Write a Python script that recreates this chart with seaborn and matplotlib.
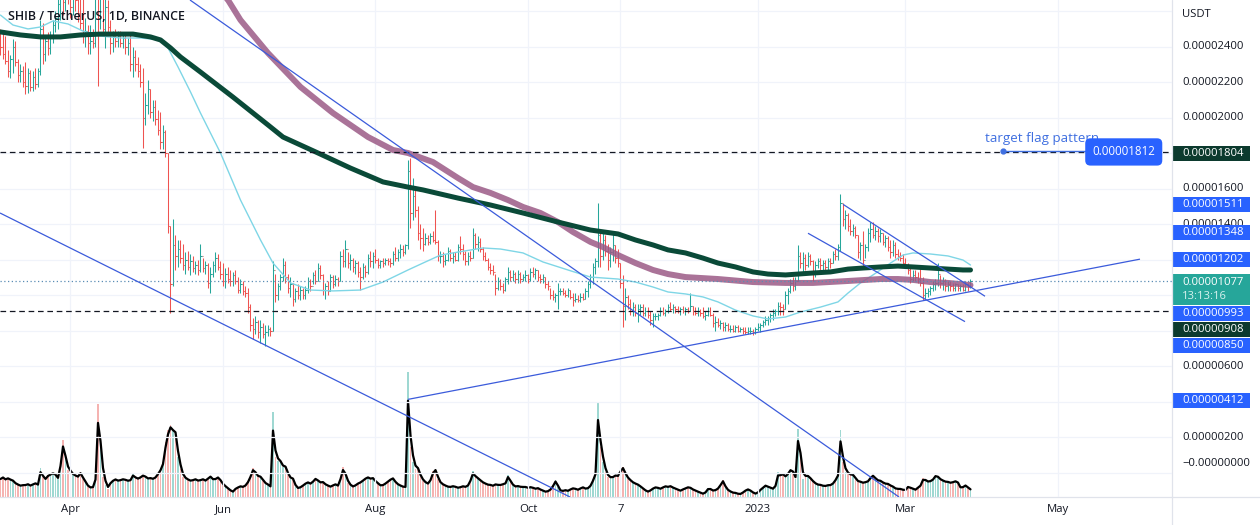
import matplotlib
matplotlib.use("Agg")
import numpy as np
import pandas as pd
import matplotlib.pyplot as plt
import matplotlib.dates as mdates
from matplotlib.patches import Rectangle
from matplotlib.lines import Line2D
import seaborn as sns

# ---------------- data (prices in units of 1e-6 USDT) ----------------
start_date = "2022-03-04"
first_open = 24.3

high = [
25.0,24.9,24.6,23.8,23.5,24.4,24.3,23.3,23.0,22.9,
23.1,22.8,22.7,22.6,22.8,22.8,25.5,25.3,24.6,24.8,
24.9,25.5,26.0,26.8,27.5,28.0,28.2,28.5,28.0,27.6,
27.8,27.4,27.0,26.8,25.6,25.2,25.2,25.0,27.2,28.0,
27.8,27.2,26.8,26.6,25.5,24.9,25.0,24.9,24.9,24.8,
24.8,24.5,24.7,24.0,23.8,23.4,23.0,22.8,21.4,22.1,
21.6,21.0,21.0,20.4,20.3,19.6,19.3,18.0,13.9,14.3,
13.4,13.1,13.1,12.9,12.4,12.5,12.3,12.2,11.9,12.0,
12.9,12.1,11.9,11.8,11.6,11.9,12.4,12.3,11.9,11.8,
11.5,11.6,11.4,11.3,11.4,11.0,10.9,10.8,10.5,10.4,
9.5,8.7,8.8,8.6,8.6,8.4,8.3,8.3,8.2,11.9,
11.2,10.7,11.2,12.1,11.9,11.2,11.0,10.7,10.4,10.6,
10.5,10.4,10.5,11.0,10.9,11.3,11.4,11.8,11.7,11.2,
10.7,10.8,11.2,11.1,11.1,11.0,12.5,12.6,13.1,12.4,
12.3,12.1,12.0,11.9,11.6,11.8,11.7,12.3,12.5,12.4,
12.6,12.1,12.0,12.1,12.1,12.1,12.1,12.5,12.7,12.6,
12.9,12.8,12.9,17.6,17.7,16.6,15.9,15.0,14.0,13.8,
13.5,13.4,13.5,13.6,14.8,13.1,12.5,12.4,12.3,12.7,
12.6,12.4,12.4,12.9,13.3,12.9,12.5,12.4,12.5,13.8,
13.5,13.3,13.2,12.7,12.4,12.1,11.8,11.7,11.2,11.0,
10.9,10.7,11.0,11.6,11.4,11.4,11.3,11.4,11.3,11.2,
11.4,11.2,11.5,11.6,11.5,11.4,11.2,11.2,11.0,10.8,
10.4,10.3,10.1,10.7,10.4,10.4,10.3,10.4,10.3,10.1,
10.1,10.0,10.1,10.1,10.4,10.8,11.2,11.8,12.1,15.2,
13.7,13.5,13.4,12.9,12.7,13.5,12.8,12.6,11.8,11.1,
10.4,10.0,9.8,9.6,9.5,9.5,9.5,9.5,9.3,9.3,
9.1,9.0,9.0,9.0,9.3,9.3,9.2,9.5,9.6,9.5,
9.4,9.4,9.3,9.4,9.3,9.3,10.1,9.4,9.3,9.3,
9.2,9.3,9.1,9.3,9.3,9.0,8.8,8.7,8.6,8.5,
8.5,8.4,8.3,8.3,8.3,8.3,8.2,8.2,8.2,8.2,
8.2,8.1,8.2,8.4,8.4,8.6,8.8,8.8,9.0,9.2,
9.2,9.6,9.6,9.5,10.2,10.4,10.9,11.0,11.0,12.8,
12.4,12.4,12.3,12.4,12.3,12.0,11.9,12.1,12.1,12.0,
12.0,12.1,12.1,12.5,12.6,12.9,15.7,15.1,14.8,14.6,
14.3,14.0,13.9,13.4,13.0,13.6,12.9,13.8,14.1,14.1,
13.9,13.8,13.7,13.5,13.4,13.3,13.1,13.1,13.0,12.6,
12.4,12.3,12.1,11.8,11.5,11.4,11.4,11.3,11.5,11.0,
10.4,10.4,10.5,10.8,10.9,11.8,11.1,11.0,10.9,10.8,
10.8,10.7,10.7,10.6,10.6,10.6,10.8,10.7,10.9,
]

low = [
23.5,23.3,23.0,22.3,22.2,22.5,22.9,22.0,22.0,21.7,
21.3,21.4,21.5,21.5,21.6,21.7,22.4,23.0,23.2,23.5,
23.6,24.2,24.8,25.0,25.5,25.8,26.0,26.4,25.6,25.8,
26.0,25.4,25.0,24.2,24.0,23.6,23.6,23.9,24.0,21.8,
25.0,24.6,23.9,24.8,23.6,23.7,24.0,24.0,24.0,23.9,
23.6,23.5,22.6,22.3,22.6,22.3,21.7,18.3,19.6,20.2,
20.0,19.8,19.6,19.0,18.2,18.2,17.8,13.5,9.0,10.5,
11.4,11.6,11.8,11.4,11.2,11.4,11.1,11.3,11.2,11.1,
11.3,11.3,11.2,10.4,10.1,11.0,11.3,11.4,10.9,10.5,
10.4,10.7,10.5,10.5,10.6,10.1,10.1,10.0,9.9,9.0,
8.0,7.5,7.8,7.6,7.3,7.6,7.1,7.7,7.7,8.0,
9.6,9.7,10.3,10.8,10.7,10.1,9.9,9.4,9.6,9.8,
9.7,9.8,9.8,10.1,10.2,10.6,10.6,10.8,10.9,10.0,
9.8,10.0,10.2,10.4,10.5,10.5,10.8,11.6,11.6,11.5,
11.4,11.3,11.2,11.0,10.3,10.9,11.0,11.2,11.6,11.5,
11.8,11.5,11.5,11.6,11.7,11.7,11.6,11.7,11.9,11.9,
12.1,12.2,12.3,12.6,13.8,14.2,14.4,13.1,12.6,12.5,
12.8,12.8,12.9,13.0,12.9,11.9,11.8,11.6,11.7,11.9,
11.9,11.8,11.9,11.9,12.3,12.0,11.7,11.7,11.9,12.1,
12.6,12.5,12.4,12.0,11.9,11.4,11.2,11.1,10.0,10.3,
10.3,10.1,10.2,10.6,10.8,10.8,10.7,10.7,10.7,10.8,
10.8,10.7,10.8,11.0,10.9,10.8,10.7,10.7,10.4,10.3,
9.8,9.7,9.6,9.2,10.0,10.0,9.9,9.9,9.8,9.4,
9.6,9.6,9.6,9.7,9.8,9.9,10.4,10.6,11.2,11.6,
11.6,12.0,12.2,11.4,11.6,11.9,11.8,11.6,10.4,8.2,
8.6,9.2,8.9,8.8,8.8,8.5,8.9,8.8,8.8,8.7,
8.3,8.2,8.6,8.6,8.8,8.9,8.8,9.0,9.1,9.0,
9.0,9.0,8.9,9.0,8.9,9.0,9.1,8.9,8.9,8.8,
8.8,8.7,8.6,8.8,8.8,8.2,8.0,8.2,8.1,8.0,
8.0,8.0,7.9,7.9,7.9,7.9,7.9,7.8,7.8,7.8,
7.8,7.75,7.8,8.0,7.9,8.2,8.3,8.3,8.5,8.6,
8.8,8.9,8.9,8.9,9.2,9.5,10.1,10.2,10.3,10.8,
11.5,11.2,11.4,11.6,11.7,10.8,11.0,11.5,11.4,11.4,
11.3,11.4,11.5,11.8,12.0,12.0,12.5,13.9,13.7,13.6,
13.4,13.3,13.2,12.1,12.0,11.6,12.1,12.5,13.0,13.2,
13.1,13.0,13.0,12.8,12.7,12.5,12.1,12.2,12.1,12.0,
11.9,11.6,11.6,11.2,10.7,10.8,10.8,10.7,10.5,9.7,
9.8,9.9,10.0,10.2,10.3,10.5,10.4,10.3,10.2,10.2,
10.2,10.2,10.2,10.2,10.2,10.2,10.2,10.2,10.4,
]

close = [
24.0,23.6,23.2,22.6,23.3,24.0,23.1,22.4,22.6,22.0,
21.8,22.5,21.7,22.3,21.9,22.6,25.0,23.6,24.3,23.9,
24.6,25.2,25.6,26.4,27.0,26.5,27.6,27.2,26.2,26.9,
26.6,25.9,25.3,24.6,24.9,24.2,24.3,24.2,26.8,25.6,
26.9,25.0,26.2,25.1,24.2,24.6,24.3,24.6,24.2,24.5,
24.0,24.2,23.0,23.4,23.0,22.6,22.0,20.0,20.7,21.6,
20.3,20.6,19.9,19.3,18.6,19.2,18.0,13.9,10.6,12.8,
12.2,12.6,12.1,11.7,12.0,11.6,11.9,11.5,11.7,11.4,
12.2,11.5,11.7,10.7,11.2,11.7,12.1,11.6,11.2,10.8,
11.2,10.9,10.8,11.1,10.8,10.3,10.6,10.2,10.1,9.3,
8.3,8.1,8.5,7.9,8.2,7.8,7.9,8.1,8.0,11.4,
10.0,10.5,11.0,11.7,11.0,10.4,10.6,9.8,10.2,10.0,
10.3,10.0,10.3,10.8,10.5,11.1,10.8,11.5,11.1,10.3,
10.5,10.2,11.0,10.6,10.9,10.8,12.2,11.9,12.6,11.8,
12.0,11.6,11.8,11.3,11.0,11.6,11.3,12.1,11.9,12.2,
12.0,11.7,11.9,11.8,12.0,11.9,11.8,12.3,12.1,12.4,
12.6,12.4,12.8,17.0,14.6,15.6,14.8,13.5,13.2,12.9,
13.2,13.0,13.3,13.1,13.0,12.2,12.2,11.9,12.0,12.5,
12.1,12.2,12.0,12.7,12.6,12.3,11.9,12.2,12.1,13.4,
12.9,13.0,12.6,12.2,12.0,11.6,11.4,11.3,10.4,10.8,
10.5,10.3,10.9,11.3,11.0,11.2,10.9,11.2,10.9,11.0,
11.1,10.9,11.3,11.2,11.4,11.0,10.9,11.0,10.6,10.5,
10.0,9.9,10.0,10.2,10.2,10.1,10.0,10.3,9.9,9.7,
9.8,9.7,9.9,9.8,10.2,10.6,11.0,11.6,11.9,13.4,
12.2,13.1,12.5,12.0,12.4,12.8,12.1,11.8,10.7,9.4,
9.9,9.5,9.1,9.3,9.0,9.2,9.3,9.0,9.1,8.9,
8.6,8.8,8.8,8.9,9.1,9.0,9.1,9.3,9.2,9.3,
9.2,9.1,9.2,9.1,9.2,9.1,9.4,9.1,9.0,9.1,
9.0,8.8,8.9,9.1,8.9,8.4,8.5,8.3,8.4,8.2,
8.3,8.1,8.1,8.0,8.2,8.0,8.1,8.0,7.9,8.0,
8.0,7.9,8.1,8.2,8.3,8.5,8.6,8.7,8.9,9.0,
9.1,9.4,9.3,9.2,10.0,10.2,10.7,10.5,10.8,12.2,
11.8,12.1,11.7,12.2,11.9,11.2,11.7,11.9,11.7,11.8,
11.6,11.9,11.8,12.3,12.2,12.7,15.2,14.3,14.5,13.9,
13.6,13.8,13.4,12.4,12.8,12.0,12.7,13.5,13.7,13.4,
13.6,13.3,13.5,13.0,13.2,12.7,12.4,12.8,12.3,12.2,
12.1,11.8,11.7,11.4,10.9,11.1,11.0,10.9,10.7,10.0,
10.1,10.2,10.4,10.6,10.7,11.2,10.7,10.8,10.5,10.6,
10.5,10.4,10.6,10.4,10.5,10.3,10.6,10.5,10.77,
]

volume = [
18,20,17,19,17,16,13,12,11,12,
12,13,11,13,14,12,29,20,17,22,
23,24,22,18,35,57,38,27,25,22,
21,20,25,18,14,10,9,10,20,93,
50,20,12,8,15,17,18,16,17,18,
17,16,17,23,19,18,20,22,20,18,
19,18,20,24,28,35,55,67,72,66,
64,40,28,20,18,17,16,17,18,16,
17,18,16,19,21,17,18,20,16,12,
10,8,6,5,9,10,11,10,12,16,
22,29,24,20,20,16,13,12,10,85,
40,36,35,30,30,22,18,18,10,8,
10,12,14,15,13,16,19,16,14,15,
12,11,10,12,13,11,20,30,22,14,
11,10,12,14,15,17,19,20,18,19,
15,13,11,12,14,16,18,19,14,12,
11,10,10,125,50,35,28,28,20,16,
14,13,18,26,28,18,13,12,11,10,
10,11,10,9,10,11,10,12,18,26,
20,18,16,14,13,12,12,11,13,12,
12,13,14,22,15,11,10,11,10,10,
10,9,10,9,8,9,7,6,5,6,
8,12,17,10,5,6,7,6,8,9,
8,7,9,10,8,9,12,18,25,95,
50,35,25,20,19,20,22,21,27,30,
22,18,16,14,13,12,10,8,6,5,
7,9,10,9,8,10,11,10,11,9,
8,7,6,8,9,10,9,7,6,5,
4,3,5,9,8,6,7,9,13,17,
9,6,5,4,4,3,3,5,7,8,
6,4,3,5,8,10,12,10,9,8,
12,25,22,23,20,24,28,25,18,68,
40,18,20,21,18,15,13,12,12,11,
11,12,12,14,18,23,67,35,25,23,
22,22,18,15,15,14,15,16,20,22,
18,16,16,14,13,13,11,10,8,8,
8,7,7,11,9,8,7,10,12,19,
17,15,16,18,22,20,17,16,15,15,
14,15,16,14,8,10,12,9,7,
]

# moving averages: bar index -> price
cyan_idx = [0,5,11,16,21,27,33,40,48,56,64,67,71,76,80,88,96,104,109,116,
            124,133,144,153,163,169,176,183,193,200,209,217,227,236,247,254,261,267,274,281,
            287,294,301,307,314,320,328,335,339,344,349,356,361,365,372,379,385,388]
cyan_val = [25.77,25.21,24.99,25.10,25.44,25.27,24.87,24.59,24.48,24.48,24.37,23.92,22.85,21.44,20.25,18.00,15.35,13.10,11.80,10.68,
            10.28,10.23,10.28,10.73,11.41,11.80,12.25,12.42,12.65,12.59,12.37,11.86,11.41,11.01,10.90,10.73,10.45,10.17,10.06,9.89,
            9.61,9.15,8.82,8.65,8.76,9.04,9.32,9.61,10.11,10.68,11.13,11.80,12.25,12.37,12.31,12.20,11.97,11.69]
green_idx = [0,8,16,24,32,40,48,53,60,64,68,72,80,93,107,113,127,140,153,163,
             169,183,196,209,223,236,247,254,261,267,274,281,287,294,301,307,314,325,332,339,
             345,352,359,365,372,379,385,388]
green_val = [24.82,24.65,24.54,24.54,24.65,24.70,24.70,24.70,24.54,24.37,23.92,23.41,22.56,21.15,19.58,18.90,18.00,17.15,16.37,16.08,
             15.92,15.46,15.07,14.62,14.11,13.66,13.44,13.10,12.82,12.54,12.37,12.08,11.80,11.58,11.30,11.18,11.13,11.24,11.30,11.46,
             11.52,11.58,11.63,11.58,11.52,11.46,11.41,11.41]
mauve_idx = [86,91,96,107,120,133,147,157,163,173,183,189,196,203,209,216,223,229,236,241,
             247,254,261,267,274,287,301,314,325,339,352,359,365,372,379,388]
mauve_val = [27.3,26.62,25.49,23.63,21.72,20.25,18.90,18.17,18.00,17.49,16.59,16.08,15.75,15.35,14.96,14.62,14.11,13.55,12.99,12.70,
             12.25,11.80,11.41,11.18,11.01,10.90,10.73,10.68,10.68,10.79,10.90,10.90,10.85,10.73,10.68,10.56]

# drawings: (bar0, price0, bar1, price1)
trend_lines = [
    (75.8, 26.62, 359.4, -1.38),
    (-0.2, 14.62, 227.8, -1.38),
    (163.0, 4.12, 455.8, 12.02),
    (337.0, 15.11, 393.8, 9.93),
    (323.0, 13.48, 385.8, 8.50),
]
dashed_levels = [18.04, 9.08]
last_price = 10.77
countdown = "13:13:16"
target_price = 18.12
target_bar = 401
target_text = "target flag pattern"

axis_ticks = [24, 22, 20, 16, 14, 6, 2]
zero_label_at = 0.53
# (value, displayed at, colour)
price_labels = [
    (18.04, 17.97, "#0c3a2e"),
    (15.11, 15.10, "#2962ff"),
    (13.48, 13.52, "#2962ff"),
    (12.02, 12.00, "#2962ff"),
    (9.93, 8.93, "#2962ff"),
    (9.08, 8.03, "#0c3a2e"),
    (8.50, 7.13, "#2962ff"),
    (4.12, 4.08, "#2962ff"),
]
month_ticks = ["2022-04-01", "2022-06-01", "2022-08-01", "2022-10-01",
               "2022-11-07", "2023-01-01", "2023-03-01", "2023-05-01"]
month_labels = ["Apr", "Jun", "Aug", "Oct", "7", "2023", "Mar", "May"]

# ---------------- drawing ----------------
sns.set_theme(style="white")
plt.rcParams["font.family"] = ["Open Sans", "DejaVu Sans"]

UP, DN = "#26a69a", "#ef5350"
TXT = "#131722"
BORDER = "#e0e3eb"
GRID = "#f0f3fa"

n = len(close)
x0 = mdates.date2num(pd.Timestamp(start_date))
xb = x0 + np.arange(n)
c = np.array(close)
o = np.r_[first_open, c[:-1]]
up = c >= o
cols = np.where(up, UP, DN)

fig = plt.figure(figsize=(12.6, 5.25), dpi=100)
fig.patch.set_facecolor("white")
W, H = 1260, 525
ax = fig.add_axes([0, 28 / H, 1172 / W, 497 / H])
ax.set_xlim(x0 - 0.2, x0 + 468.6)
ax.set_ylim(-1.38, 26.62)

# volume pane (overlay)
ax_v = ax.twinx()
ax_v.set_ylim(0, 497)
ax_v.axis("off")
ax.set_zorder(2)
ax_v.set_zorder(1)
ax.patch.set_visible(False)

vcols = np.where(up, "#9fd8d2", "#f5b3b1")
ax_v.bar(xb, volume, width=0.42, color=vcols, linewidth=0)
vol_line = pd.Series(volume, dtype=float).ewm(alpha=0.75, adjust=False).mean()
sns.lineplot(x=xb, y=vol_line.values, ax=ax_v, color="black", lw=1.6)

# grid
ax.set_yticks(np.arange(0, 27, 2))
tick_x = [mdates.date2num(pd.Timestamp(t)) for t in month_ticks]
ax.set_xticks(tick_x)
ax.set_xticklabels(month_labels)
ax.grid(True, color=GRID, lw=0.9, zorder=0)
ax.tick_params(axis="y", length=0, labelleft=False, labelright=False)
ax.tick_params(axis="x", length=0, pad=5, labelsize=8.2, labelcolor=TXT)
for s in ["left", "top", "right", "bottom"]:
    ax.spines[s].set_visible(False)

# OHLC bars
lw_bar = 0.75
ax.vlines(xb, low, high, colors=cols, lw=lw_bar, zorder=3)
ax.hlines(o, xb - 0.45, xb, colors=cols, lw=lw_bar, zorder=3)
ax.hlines(c, xb, xb + 0.45, colors=cols, lw=lw_bar, zorder=3)

# moving averages
sns.lineplot(x=x0 + np.array(cyan_idx), y=cyan_val, ax=ax, color="#7fd6e6", lw=1.0, zorder=4)
sns.lineplot(x=x0 + np.array(mauve_idx), y=mauve_val, ax=ax, color="#9b5a86", lw=4.3, alpha=0.85, zorder=4)
sns.lineplot(x=x0 + np.array(green_idx), y=green_val, ax=ax, color="#0a4a38", lw=3.6, zorder=5)

# horizontal levels
for lv in dashed_levels:
    ax.axhline(lv, color=TXT, lw=0.9, ls=(0, (4.5, 3)), zorder=6)
ax.axhline(last_price, color="#5a8db5", lw=0.9, ls=(0, (1, 2)), zorder=6)

# trend lines
for b0, p0, b1, p1 in trend_lines:
    ax.plot([x0 + b0, x0 + b1], [p0, p1], color="#3b5bdb", lw=0.9, zorder=7, solid_capstyle="butt")

# target annotation
tcol = "#3f6fe0"
ax.plot([x0 + target_bar, x0 + 434], [target_price, target_price], color=tcol, lw=1.0, zorder=8)
ax.plot([x0 + target_bar], [target_price], "o", color=tcol, ms=3.5, zorder=8)
ax.text(x0 + 393.8, target_price + 0.70, target_text, color=tcol, fontsize=9.6,
        ha="left", va="center", zorder=8)
ax.text(x0 + 449.3, target_price - 0.06, f"{target_price * 1e-6:.8f}", color="white", fontsize=8.3,
        ha="center", va="center", zorder=9,
        bbox=dict(boxstyle="round,pad=0.62,rounding_size=0.45", fc="#2962ff", ec="none"))

# title
fig.text(8 / W, 1 - 17 / H, "SHIB / TetherUS, 1D, BINANCE", fontsize=8.9, weight="semibold",
         color=TXT, ha="left", va="center")

# right price scale
ax_r = fig.add_axes([1172 / W, 28 / H, 88 / W, 497 / H])
ax_r.set_ylim(ax.get_ylim())
ax_r.set_xlim(0, 88)
ax_r.axis("off")
ax_r.text(10, 25.83, "USDT", fontsize=8.1, color=TXT, va="center")
for t in axis_ticks:
    ax_r.text(10, t, f"{t * 1e-6:.8f}", fontsize=8.1, color=TXT, va="center")
ax_r.text(10, zero_label_at, "\u22120.00000000", fontsize=8.1, color=TXT, va="center")
bh = 15 / 17.75
for val, pos, colr in price_labels:
    ax_r.add_patch(Rectangle((1, pos - bh / 2), 77, bh, fc=colr, ec="none", zorder=3))
    ax_r.text(10, pos, f"{val * 1e-6:.8f}", fontsize=8.1, color="white", va="center", zorder=4)
# last price box
ax_r.add_patch(Rectangle((1, 9.44), 77, 1.74, fc=UP, ec="none", zorder=3))
ax_r.text(10, 10.68, f"{last_price * 1e-6:.8f}", fontsize=8.1, color="white", va="center", zorder=4)
ax_r.text(10, 9.94, countdown, fontsize=8.1, color="#d6f2ee", va="center", zorder=4)

# pane borders
fig.add_artist(Line2D([0, 1], [28 / H, 28 / H], color=BORDER, lw=0.9))
fig.add_artist(Line2D([1172 / W, 1172 / W], [0, 1], color=BORDER, lw=0.9))

fig.savefig("out.png", dpi=100, facecolor="white")
